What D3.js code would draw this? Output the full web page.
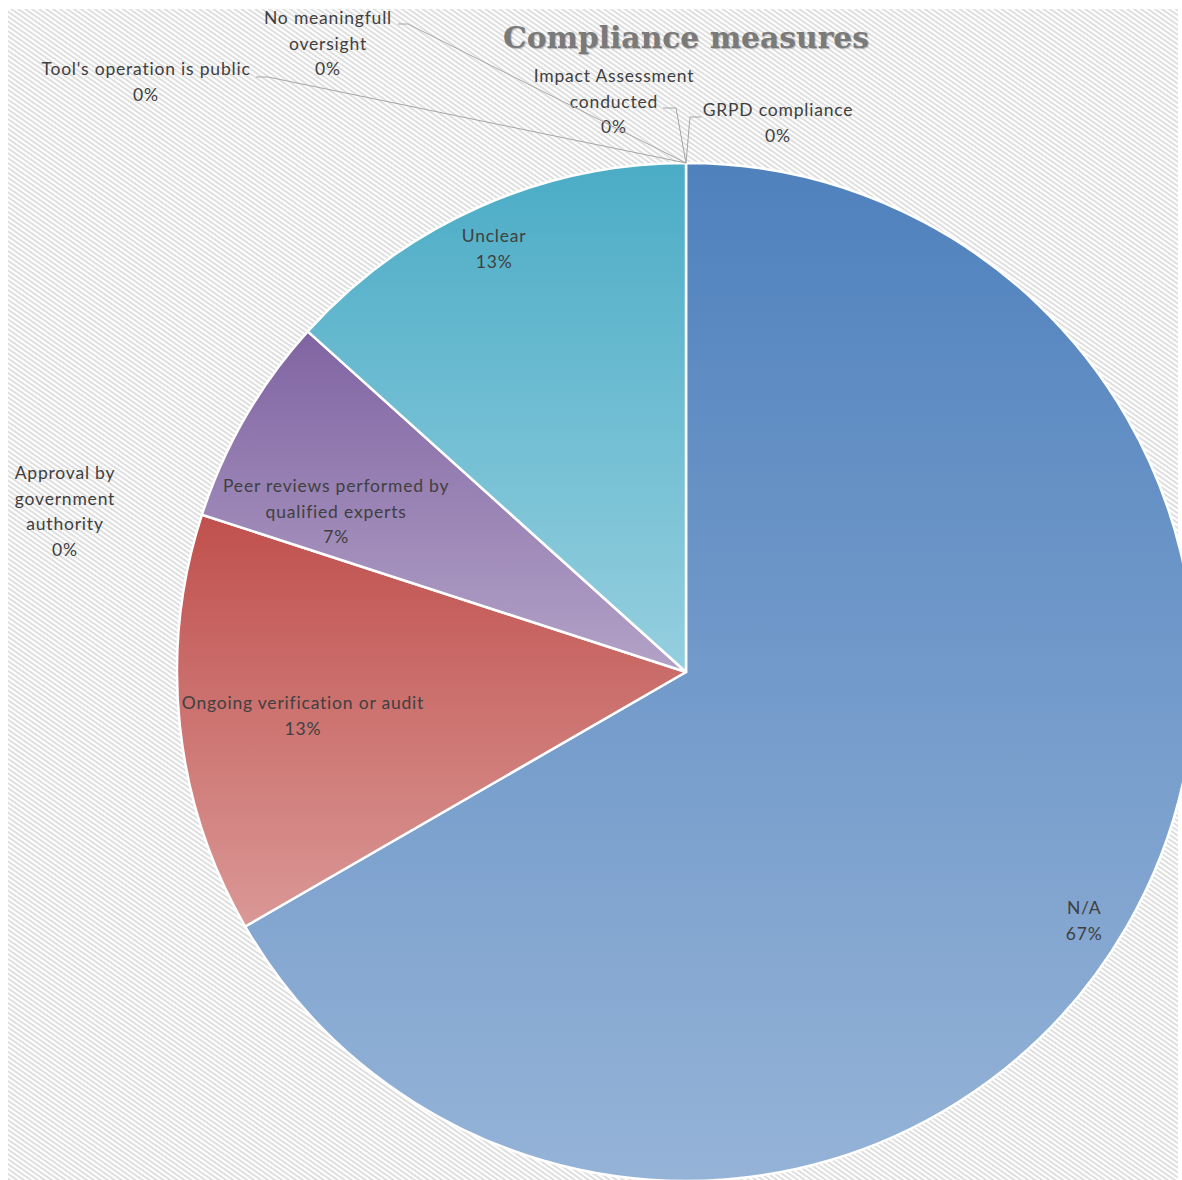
<!DOCTYPE html>
<html><head><meta charset="utf-8">
<script src="https://cdn.jsdelivr.net/npm/d3@7"></script>
<style>body{margin:0;background:#fff;overflow:hidden}</style>
</head><body><svg id="c" width="1182" height="1180"></svg>
<script>
// ---- data ----
const categories = ["N/A","Ongoing verification or audit","Approval by government authority","Peer reviews performed by qualified experts","Unclear","Tool's operation is public","No meaningfull oversight","Impact Assessment conducted","GRPD compliance"];
const counts = [10, 2, 0, 1, 2, 0, 0, 0, 0];
const labelLines = [["N/A"],["Ongoing verification or audit"],["Approval by","government","authority"],["Peer reviews performed by","qualified experts"],["Unclear"],["Tool's operation is public"],["No meaningfull","oversight"],["Impact Assessment","conducted"],["GRPD compliance"]];
const title = "Compliance measures";

// ---- styles / layout ----
const baseColors = ["#4F81BD","#C0504D","#9BBB59","#8064A2","#4BACC6","#4F81BD","#4F81BD","#4F81BD","#4F81BD"];
const lightColors = ["#95B3D7","#DA9896","#C3D69B","#B3A2C7","#95CFDF","#95B3D7","#95B3D7","#95B3D7","#95B3D7"];
const cx = 686, cy = 672, R = 509;
const lineH = 25.5;
// inside labels: polar [angleDeg, radius px]; outside labels: absolute [x, yOfFirstLine]
const labelPlace = [
  {polar:[122,469.5]},
  {polar:[263.5,385.5]},
  {abs:[65,473]},
  {polar:[294.6,384.8]},
  {polar:[335.6,464.5]},
  {abs:[146,69], leader:[[256,77],[268,77]]},
  {abs:[328,18], leader:[[398,24],[408,24]]},
  {abs:[614,76], leader:[[663,108],[676,108]]},
  {abs:[778,110], leader:[[701,117],[690,117]]}
];

const svg = d3.select("#c");
const defs = svg.append("defs");

// hatched background
const pat = defs.append("pattern").attr("id","hatch").attr("patternUnits","userSpaceOnUse")
  .attr("width",8).attr("height",4).attr("patternTransform","rotate(35)");
pat.append("rect").attr("width",8).attr("height",4).attr("fill","#ffffff");
pat.append("rect").attr("width",8).attr("height",1.8).attr("fill","#dcdcdc");
svg.append("rect").attr("x",8).attr("y",9).attr("width",1170).attr("height",1180).attr("fill","url(#hatch)");

// gradients
categories.forEach((c,i)=>{
  const g = defs.append("linearGradient").attr("id","g"+i).attr("x1",0).attr("y1",0).attr("x2",0).attr("y2",1);
  g.append("stop").attr("offset","0%").attr("stop-color",baseColors[i]);
  g.append("stop").attr("offset","100%").attr("stop-color",lightColors[i]);
});

const total = d3.sum(counts);
const pie = d3.pie().sort(null).value(d=>d)(counts);
const arc = d3.arc().innerRadius(0).outerRadius(R);
const gPie = svg.append("g").attr("transform",`translate(${cx},${cy})`);
gPie.selectAll("path").data(pie).join("path")
  .attr("d",arc)
  .attr("fill",(d,i)=>`url(#g${i})`)
  .attr("stroke","#ffffff").attr("stroke-width",d=>d.value>0?2.5:0).attr("stroke-linejoin","round");

// title
svg.append("text").attr("x",686).attr("y",48).attr("text-anchor","middle")
  .attr("font-family","'DejaVu Serif','Liberation Serif',serif").attr("font-weight","bold")
  .attr("font-size",30).attr("fill","#7a7a7a").attr("textLength",366).attr("lengthAdjust","spacingAndGlyphs")
  .style("text-shadow","1px 1px 1px rgba(0,0,0,0.25)")
  .text(title);

const fmt = d3.format(".0%");
const lab = svg.append("g").attr("font-family","Lato, 'Open Sans', sans-serif").attr("font-size",17.5)
  .attr("letter-spacing","0.8px").attr("fill","#404040");

// leader lines
pie.forEach((d,i)=>{
  const p = labelPlace[i];
  if(!p.leader) return;
  const a = d.endAngle;
  const tip = [cx + R*Math.sin(a), cy - R*Math.cos(a)];
  svg.append("polyline").attr("points",[...p.leader, tip].map(q=>q.join(",")).join(" "))
    .attr("fill","none").attr("stroke","#a6a6a6").attr("stroke-width",1);
});

pie.forEach((d,i)=>{
  const p = labelPlace[i];
  const lines = [...labelLines[i], fmt(d.value/total)];
  let x, y0;
  if(p.polar){
    const a = p.polar[0]*Math.PI/180;
    x = cx + p.polar[1]*Math.sin(a);
    const yc = cy - p.polar[1]*Math.cos(a);
    y0 = yc - (lines.length-1)*lineH/2;
  } else { x = p.abs[0]; y0 = p.abs[1]; }
  const t = lab.append("text").attr("text-anchor","middle");
  lines.forEach((s,k)=>{
    t.append("tspan").attr("x",x).attr("y",y0+k*lineH).attr("dy","0.35em").text(s);
  });
});
</script></body></html>
